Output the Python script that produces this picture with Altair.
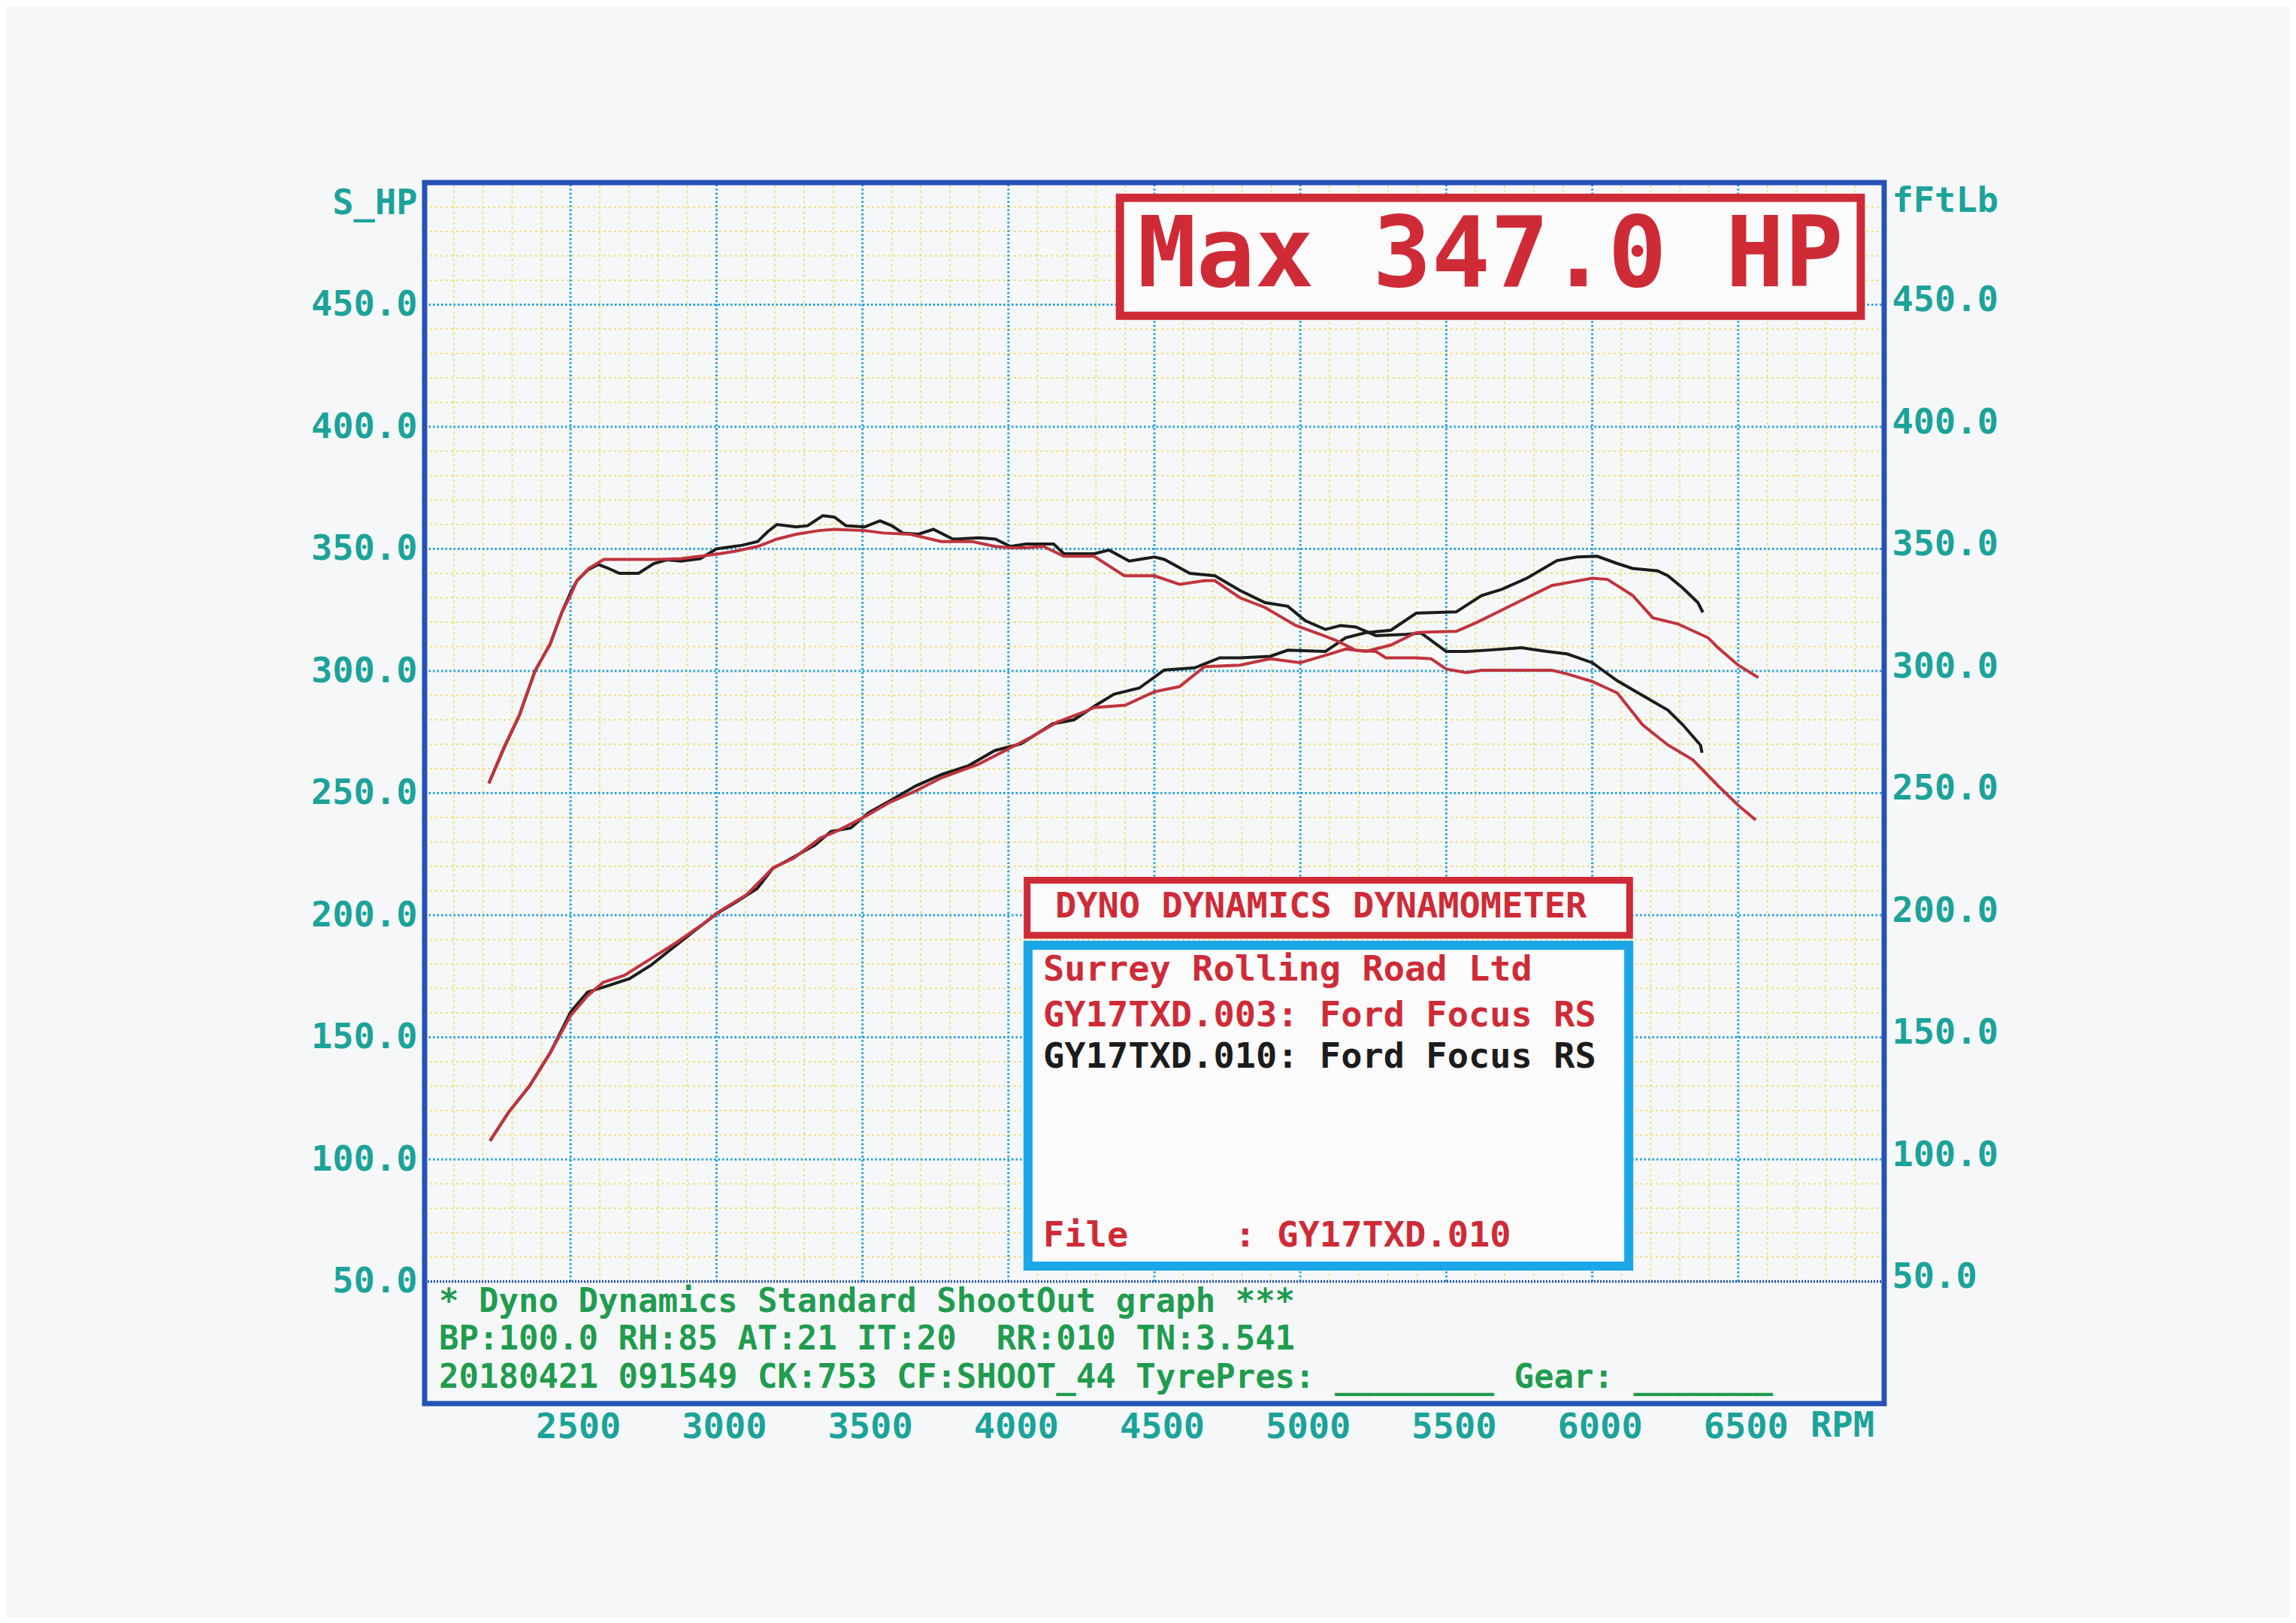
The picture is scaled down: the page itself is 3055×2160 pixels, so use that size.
import altair as alt
import pandas as pd

# run GY17TXD.003 (red): power (S_HP) and torque (fFtLb)
rpm_003_hp = [2224, 2287, 2359, 2431, 2500, 2558, 2612, 2684, 2774, 2865, 2955, 3000, 3103, 3193,
              3265, 3356, 3410, 3500, 3590, 3681, 3771, 3897, 4000, 4078, 4168, 4258, 4293, 4400,
              4500, 4586, 4672, 4793, 4897, 5000, 5086, 5155, 5224, 5310, 5397, 5448, 5534, 5603,
              5690, 5776, 5862, 5931, 6000, 6052, 6138, 6207, 6293, 6397, 6431, 6500, 6569]
hp_003 = [107.6, 119.2, 130.0, 143.8, 158.9, 167.0, 172.5, 175.3, 182.1, 189.0, 196.5, 200.8, 208.4, 219.3,
          223.4, 231.6, 234.3, 239.8, 246.0, 250.8, 256.3, 261.8, 268.1, 272.9, 279.1, 283.2, 285.0, 286.0,
          291.5, 293.6, 301.8, 302.4, 305.0, 303.4, 306.4, 309.0, 308.0, 310.6, 315.7, 316.0, 316.2, 319.8,
          324.9, 330.0, 335.0, 336.5, 338.0, 337.5, 331.0, 321.8, 319.3, 313.6, 309.5, 302.4, 297.3]

rpm_003_tq = [2220, 2272, 2325, 2378, 2430, 2470, 2500, 2522, 2562, 2614, 2700, 2800, 2878, 2944,
              3010, 3062, 3141, 3207, 3273, 3351, 3404, 3507, 3572, 3664, 3770, 3876, 3955, 4007,
              4060, 4120, 4190, 4293, 4397, 4500, 4586, 4672, 4707, 4793, 4879, 4983, 5069, 5121,
              5190, 5259, 5293, 5397, 5448, 5500, 5569, 5621, 5741, 5862, 5914, 6000, 6086, 6172,
              6259, 6345, 6431, 6500, 6560]
tq_003 = [254.0, 268.8, 282.0, 300.0, 311.0, 324.0, 331.0, 337.0, 342.0, 345.7, 345.7, 345.7, 346.0, 347.0,
          348.0, 349.0, 351.0, 354.0, 356.0, 357.5, 358.0, 357.5, 356.5, 356.0, 353.0, 353.0, 351.0, 350.5,
          350.5, 351.0, 347.0, 347.0, 339.0, 339.0, 335.5, 337.0, 337.0, 330.0, 326.0, 318.7, 315.0, 312.6,
          308.5, 308.0, 305.4, 305.4, 305.0, 300.8, 299.3, 300.3, 300.3, 300.3, 298.8, 295.7, 291.0, 278.0,
          269.7, 263.6, 253.0, 245.0, 239.0]

# run GY17TXD.010 (black)
rpm_010_hp = [2224, 2287, 2359, 2431, 2500, 2558, 2630, 2702, 2774, 2847, 2919, 3000, 3067, 3139,
              3193, 3248, 3338, 3392, 3460, 3520, 3592, 3682, 3773, 3863, 3953, 4043, 4152, 4224,
              4300, 4362, 4448, 4534, 4638, 4724, 4793, 4897, 4957, 5086, 5155, 5224, 5310, 5397,
              5534, 5621, 5690, 5776, 5879, 5948, 6017, 6086, 6138, 6224, 6259, 6310, 6362, 6379]
hp_010 = [107.6, 119.2, 130.0, 143.8, 160.3, 168.5, 171.2, 174.0, 179.4, 186.3, 193.1, 200.6, 205.4, 210.9,
          219.2, 222.7, 228.8, 234.3, 235.7, 241.9, 246.7, 252.9, 257.7, 261.2, 267.4, 270.2, 278.4, 280.0,
          286.0, 290.5, 293.0, 300.4, 301.3, 305.4, 305.4, 306.0, 308.5, 308.0, 313.6, 315.7, 316.7, 323.7,
          324.2, 330.9, 333.4, 338.0, 345.2, 346.7, 347.0, 344.0, 342.0, 341.0, 339.0, 334.0, 328.0, 324.0]

rpm_010_tq = [2220, 2272, 2325, 2378, 2430, 2470, 2500, 2522, 2560, 2595, 2630, 2667, 2733, 2785,
              2830, 2878, 2944, 3000, 3088, 3141, 3175, 3207, 3273, 3312, 3364, 3404, 3443, 3507,
              3560, 3600, 3638, 3691, 3743, 3810, 3900, 3955, 4007, 4060, 4103, 4155, 4190, 4293,
              4345, 4414, 4500, 4534, 4621, 4707, 4793, 4879, 4957, 5017, 5086, 5138, 5190, 5259,
              5362, 5414, 5500, 5569, 5638, 5759, 5845, 5914, 6000, 6086, 6172, 6259, 6310, 6371, 6376]
tq_010 = [254.0, 268.5, 282.0, 300.0, 311.0, 324.0, 332.0, 337.0, 341.5, 343.6, 342.0, 340.0, 340.0, 344.0,
          345.5, 345.0, 346.0, 350.0, 351.5, 353.0, 357.0, 360.0, 359.0, 359.5, 363.6, 363.0, 359.5, 359.0,
          361.5, 359.5, 356.5, 356.0, 358.0, 354.0, 354.5, 354.0, 351.0, 352.0, 352.0, 352.0, 348.0, 348.0,
          349.5, 345.0, 346.7, 345.7, 340.0, 339.0, 333.0, 328.0, 326.5, 320.6, 317.0, 318.6, 318.0, 314.5,
          315.0, 315.5, 308.0, 308.0, 308.5, 309.5, 308.0, 307.0, 303.4, 296.0, 290.0, 284.0, 278.0, 269.6, 266.5]

# axis ticks and grid positions
rpm_ticks = [2500, 3000, 3500, 4000, 4500, 5000, 5500, 6000, 6500]
hp_ticks = [50, 100, 150, 200, 250, 300, 350, 400, 450]
major_hp = [100, 150, 200, 250, 300, 350, 400, 450]
minor_rpm = [r for r in range(2100, 7000, 100) if r % 500]
minor_hp = [h for h in range(60, 500, 10) if h % 50]

FONT = "DejaVu Sans Mono"
TEAL = "#1ba39a"
GREEN = "#1f9c4e"
RED = "#cf2b37"
CURVE_RED = "#c0343e"
BLACK = "#1c1c1c"
BLUE = "#2452b5"
CYAN = "#27a2dc"
YELLOW = "#ede07c"
BG = "#f6f7f8"
NB = "\u00a0"  # keeps runs of spaces in svg text

W, H = 1942, 1625
x_scale = alt.Scale(domain=[2000, 7000], nice=False, zero=False)
y_scale = alt.Scale(domain=[0, 500], nice=False, zero=False)

x_axis = alt.Axis(values=rpm_ticks, format="d", grid=False, domain=False, ticks=False,
                  labelPadding=8, labelOffset=10, title="RPM", titleAngle=0, titleX=1886,
                  titleY=29, titleAlign="center", titleBaseline="middle")
left_axis = alt.Axis(values=hp_ticks, format=".1f", grid=False, domain=False, ticks=False,
                     labelPadding=10, title="S_HP", titleAngle=0, titleAlign="right",
                     titleBaseline="middle", titleX=-10, titleY=27)
right_axis = alt.Axis(values=hp_ticks, format=".1f", orient="right", grid=False, domain=False,
                      ticks=False, labelPadding=10, labelOffset=-6, title="fFtLb", titleAngle=0,
                      titleAlign="left", titleBaseline="middle", titleX=10, titleY=24)


def X(field):
    return alt.X(f"{field}:Q", scale=x_scale, axis=x_axis)


def Y(field, axis=left_axis):
    return alt.Y(f"{field}:Q", scale=y_scale, axis=axis)


# grid
minor_v = alt.Chart(pd.DataFrame({"rpm": minor_rpm, "lo": 50, "hi": 500})).mark_rule(
    color=YELLOW, strokeWidth=2, strokeDash=[3, 4]
).encode(x=X("rpm"), y=Y("lo"), y2="hi:Q")

minor_h = alt.Chart(pd.DataFrame({"hp": minor_hp, "lo": 2000, "hi": 7000})).mark_rule(
    color=YELLOW, strokeWidth=2, strokeDash=[3, 4]
).encode(x=X("lo"), x2="hi:Q", y=Y("hp"))

major_v = alt.Chart(pd.DataFrame({"rpm": rpm_ticks, "lo": 50, "hi": 500})).mark_rule(
    color=CYAN, strokeWidth=3, strokeDash=[2.5, 3]
).encode(x=X("rpm"), y=Y("lo"), y2="hi:Q")

major_h = alt.Chart(pd.DataFrame({"hp": major_hp, "lo": 2000, "hi": 7000})).mark_rule(
    color=CYAN, strokeWidth=3, strokeDash=[2.5, 3]
).encode(x=X("lo"), x2="hi:Q", y=Y("hp"))

base_line = alt.Chart(pd.DataFrame({"hp": [50], "lo": [2000], "hi": [7000]})).mark_rule(
    color=BLUE, strokeWidth=3.5, strokeDash=[2, 2]
).encode(x=X("lo"), x2="hi:Q", y=Y("hp"))


def curve(rpm, vals, color):
    return alt.Chart(pd.DataFrame({"rpm": rpm, "val": vals})).mark_line(
        color=color, strokeWidth=4
    ).encode(x=X("rpm"), y=Y("val"))


curves = [
    curve(rpm_010_tq, tq_010, BLACK),
    curve(rpm_010_hp, hp_010, BLACK),
    curve(rpm_003_tq, tq_003, CURVE_RED),
    curve(rpm_003_hp, hp_003, CURVE_RED),
]


def box(x0, x1, y0, y1, color, width):
    return alt.Chart(pd.DataFrame({"x0": [x0], "x1": [x1], "y0": [y0], "y1": [y1]})).mark_rect(
        fill="#fbfbfb", stroke=color, strokeWidth=width
    ).encode(x=X("x0"), x2="x1:Q", y=Y("y0"), y2="y1:Q")


def texts(rows, color, size=47, align="left"):
    df = pd.DataFrame(rows, columns=["rpm", "hp", "label"])
    df["label"] = df["label"].str.replace(" ", NB)
    return alt.Chart(df).mark_text(
        font=FONT, fontWeight="bold", fontSize=size, color=color, align=align, baseline="middle"
    ).encode(x=X("rpm"), y=Y("hp"), text="label:N")


max_box = box(4382, 6920, 445.5, 493.8, RED, 11)
max_text = texts([(5651, 469.5, "Max 347.0 HP")], RED, size=130, align="center")

title_box = box(4064, 6128, 191.8, 214.3, RED, 9)
info_box = box(4067, 6125, 56.3, 187.7, "#1ba6e6", 12)

red_lines = texts([
    (4160, 203.4, "DYNO DYNAMICS DYNAMOMETER"),
    (4119, 177.5, "Surrey Rolling Road Ltd"),
    (4119, 158.8, "GY17TXD.003: Ford Focus RS"),
    (4119, 68.6, "File     : GY17TXD.010"),
], RED)
black_lines = texts([(4119, 141.8, "GY17TXD.010: Ford Focus RS")], BLACK)

footer = texts([
    (2049, 41.6, "* Dyno Dynamics Standard ShootOut graph ***"),
    (2049, 26.2, "BP:100.0 RH:85 AT:21 IT:20  RR:010 TN:3.541"),
    (2049, 10.6, "20180421 091549 CK:753 CF:SHOOT_44 TyrePres: ________ Gear: _______"),
], GREEN, size=44)

frame = alt.Chart(pd.DataFrame({"x0": [2000], "x1": [7000], "y0": [0], "y1": [500]})).mark_rect(
    filled=False, stroke=BLUE, strokeWidth=7
).encode(x=X("x0"), x2="x1:Q", y=Y("y0"), y2="y1:Q")

left = alt.layer(
    minor_v, minor_h, major_v, major_h, base_line, *curves,
    max_box, max_text, title_box, info_box, red_lines, black_lines, footer, frame
)

right = alt.Chart(pd.DataFrame({"hp": hp_ticks, "lo": 2000})).mark_rule(opacity=0).encode(
    x=X("lo"), y=Y("hp", right_axis)
)

chart = alt.layer(left, right).resolve_scale(y="independent").properties(
    width=W,
    height=H,
    autosize=alt.AutoSizeParams(type="none"),
    padding={"left": 557, "top": 235, "right": 540, "bottom": 284},
    background=BG,
).configure_view(
    strokeWidth=0, fill=BG
).configure_axis(
    labelFont=FONT, labelFontWeight="bold", labelFontSize=47, labelColor=TEAL,
    titleFont=FONT, titleFontWeight="bold", titleFontSize=47, titleColor=TEAL
)

chart.save("out.html", embed_options={"renderer": "svg", "actions": False})
